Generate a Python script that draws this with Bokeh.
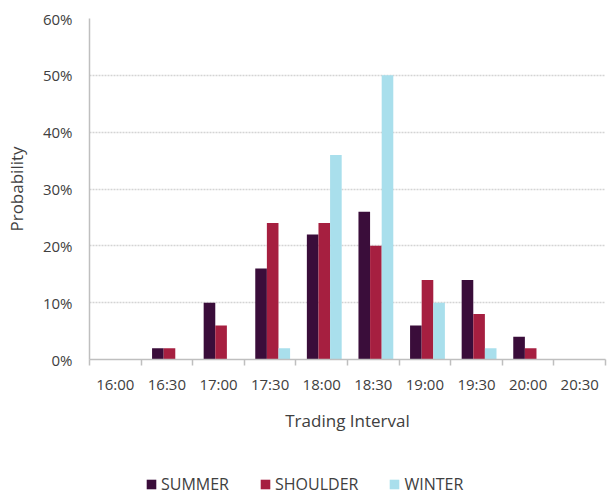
from bokeh.plotting import figure
from bokeh.models import (ColumnDataSource, FixedTicker, NumeralTickFormatter, Legend, LegendItem, Range1d)
from bokeh.layouts import column
from bokeh.embed import file_html
from bokeh.resources import INLINE

intervals = ["16:00", "16:30", "17:00", "17:30", "18:00", "18:30", "19:00", "19:30", "20:00", "20:30"]
summer = [0, 2, 10, 16, 22, 26, 6, 14, 4, 0]
shoulder = [0, 2, 6, 24, 24, 20, 14, 8, 2, 0]
winter = [0, 0, 0, 2, 36, 50, 10, 2, 0, 0]
series_names = ["SUMMER", "SHOULDER", "WINTER"]
colors = ["#3A0D3A", "#A61F40", "#A9DFEC"]

FONT = "Open Sans"
TXT = "#404040"

n = len(intervals)
centers = [i + 0.5 for i in range(n)]
bw = 0.225
shift = 0.05

p = figure(width=609, height=440, output_backend="svg", toolbar_location=None,
           x_range=Range1d(0, n), y_range=Range1d(0, 0.6),
           min_border_left=89, min_border_right=4, min_border_top=18, min_border_bottom=81)
p.outline_line_color = None
p.background_fill_color = "white"
p.border_fill_color = "white"

for k, (name, vals) in enumerate(zip(series_names, [summer, shoulder, winter])):
    src = ColumnDataSource(dict(x=[c + (k - 1) * bw + shift for c in centers],
                                top=[v / 100 for v in vals]))
    p.vbar(x="x", top="top", width=bw, source=src, fill_color=colors[k], line_color=None)

# axes
p.xaxis.ticker = FixedTicker(ticks=centers, minor_ticks=list(range(n + 1)))
p.xaxis.major_label_overrides = {c: lab for c, lab in zip(centers, intervals)}
p.xaxis.major_tick_out = 0
p.xaxis.major_tick_in = 0
p.xaxis.minor_tick_out = 6
p.xaxis.minor_tick_in = 0
p.xaxis.minor_tick_line_color = "#bfbfbf"
p.xaxis.minor_tick_line_width = 1.5
p.xaxis.axis_line_color = "#bfbfbf"
p.xaxis.axis_line_width = 1.5
p.xaxis.axis_label = "Trading Interval"
p.xaxis.major_label_standoff = 8
p.xaxis.axis_label_standoff = 12

p.yaxis.ticker = FixedTicker(ticks=[0, 0.1, 0.2, 0.3, 0.4, 0.5, 0.6])
p.yaxis.formatter = NumeralTickFormatter(format="0%")
p.yaxis.major_tick_out = 0
p.yaxis.major_tick_in = 0
p.yaxis.minor_tick_out = 0
p.yaxis.minor_tick_in = 0
p.yaxis.axis_line_color = "#bfbfbf"
p.yaxis.axis_line_width = 1.5
p.yaxis.axis_label = "Probability"
p.yaxis.major_label_standoff = 17
p.yaxis.axis_label_standoff = 12

for ax in [p.xaxis[0], p.yaxis[0]]:
    ax.major_label_text_font = FONT
    ax.major_label_text_font_size = "15px"
    ax.major_label_text_color = TXT
    ax.axis_label_text_font = FONT
    ax.axis_label_text_font_size = "17px"
    ax.axis_label_text_font_style = "normal"
    ax.axis_label_text_color = TXT

p.xgrid.grid_line_color = None
p.ygrid.ticker = FixedTicker(ticks=[0.1, 0.2, 0.3, 0.4, 0.5, 0.6])
p.ygrid.grid_line_color = "#d4d4d4"
p.ygrid.grid_line_width = 1.5
p.ygrid.grid_line_dash = "2 1"

# legend figure
lf = figure(width=609, height=55, output_backend="svg", toolbar_location=None,
            x_range=Range1d(0, 609), y_range=Range1d(0, 55),
            x_axis_location=None, y_axis_location=None,
            min_border_left=0, min_border_right=0, min_border_top=0, min_border_bottom=0)
lf.outline_line_color = None
lf.xgrid.grid_line_color = None
lf.ygrid.grid_line_color = None
lrs = []
for k in range(3):
    # legend swatches only; the bar itself lies outside the visible range
    lrs.append(lf.vbar(x=[-1000], top=[-1000], width=1, fill_color=colors[k], line_color=None))

legend = Legend(items=[LegendItem(label=nm, renderers=[r]) for nm, r in zip(series_names, lrs)],
                orientation="horizontal", location=(56, 0), padding=0, margin=0,
                spacing=30, glyph_width=12, glyph_height=12, label_standoff=4,
                label_text_font=FONT, label_text_font_size="16px", label_text_color=TXT,
                border_line_color=None, background_fill_alpha=0)
lf.add_layout(legend, "center")

layout = column(p, lf, spacing=0)
open("out.html", "w").write(file_html(layout, INLINE))
